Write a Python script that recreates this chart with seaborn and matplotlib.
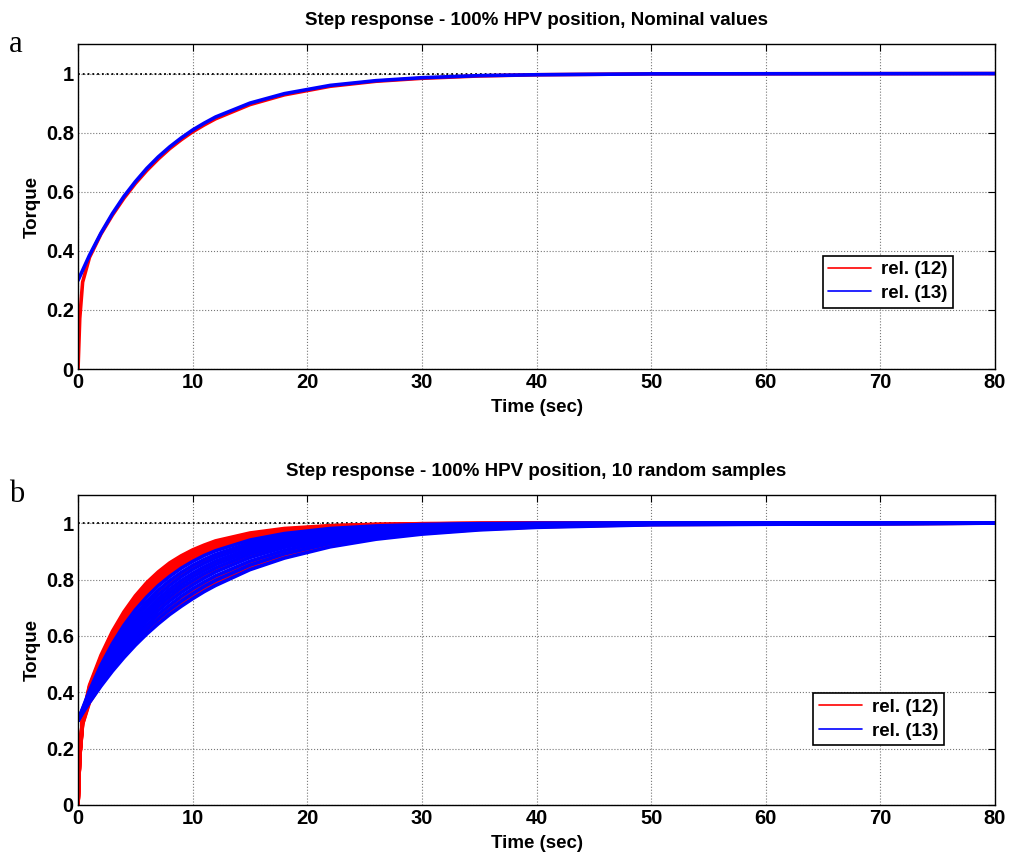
import pandas as pd
import seaborn as sns
import matplotlib.pyplot as plt
from matplotlib.lines import Line2D

# time grids (sec)
t_blue = [0, 1, 2, 3, 4, 5, 6, 7, 8, 9, 10, 11, 12, 15, 18, 22, 26, 30, 35, 40, 50, 80]
t_red = [0, 0.15, 0.4, 1, 2, 3, 4, 5, 6, 7, 8, 9, 10, 11, 12, 15, 18, 22, 26, 30, 35, 40, 50, 80]

# panel a - nominal values
nominal_red = [0, 0.171, 0.294, 0.378, 0.457, 0.521, 0.578, 0.628, 0.672, 0.711, 0.746, 0.776,
               0.803, 0.826, 0.847, 0.895, 0.928, 0.957, 0.974, 0.984, 0.992, 0.996, 0.999, 1.0]
nominal_blue = [0.3, 0.385, 0.460, 0.526, 0.584, 0.634, 0.679, 0.718, 0.752, 0.782, 0.809,
                0.832, 0.853, 0.900, 0.932, 0.960, 0.976, 0.986, 0.993, 0.996, 0.999, 1.0]

# panel b - 10 random samples per relation
samples_red = [
    [0, 0.179, 0.313, 0.425, 0.531, 0.616, 0.685, 0.742, 0.789, 0.827, 0.859, 0.884, 0.905, 0.922, 0.937, 0.965, 0.981, 0.991, 0.996, 0.998, 0.999, 1.0, 1.0, 1.0],
    [0, 0.178, 0.311, 0.420, 0.523, 0.607, 0.676, 0.732, 0.779, 0.818, 0.850, 0.876, 0.898, 0.916, 0.930, 0.961, 0.978, 0.990, 0.995, 0.998, 0.999, 1.0, 1.0, 1.0],
    [0, 0.177, 0.309, 0.416, 0.517, 0.598, 0.666, 0.723, 0.770, 0.809, 0.841, 0.868, 0.890, 0.909, 0.924, 0.956, 0.975, 0.988, 0.994, 0.997, 0.999, 1.0, 1.0, 1.0],
    [0, 0.176, 0.307, 0.413, 0.510, 0.590, 0.657, 0.713, 0.760, 0.799, 0.832, 0.860, 0.883, 0.902, 0.918, 0.952, 0.972, 0.986, 0.993, 0.997, 0.999, 1.0, 1.0, 1.0],
    [0, 0.176, 0.305, 0.407, 0.501, 0.579, 0.645, 0.700, 0.747, 0.786, 0.820, 0.848, 0.871, 0.892, 0.908, 0.945, 0.967, 0.983, 0.991, 0.996, 0.998, 0.999, 1.0, 1.0],
    [0, 0.173, 0.300, 0.395, 0.481, 0.553, 0.615, 0.668, 0.714, 0.754, 0.788, 0.817, 0.843, 0.864, 0.883, 0.925, 0.952, 0.974, 0.986, 0.992, 0.996, 0.998, 1.0, 1.0],
    [0, 0.172, 0.295, 0.385, 0.464, 0.531, 0.589, 0.641, 0.685, 0.725, 0.759, 0.789, 0.815, 0.839, 0.859, 0.905, 0.937, 0.963, 0.978, 0.987, 0.993, 0.997, 0.999, 1.0],
    [0, 0.170, 0.292, 0.377, 0.449, 0.511, 0.566, 0.615, 0.659, 0.697, 0.731, 0.762, 0.789, 0.813, 0.834, 0.884, 0.919, 0.950, 0.969, 0.981, 0.989, 0.994, 0.998, 1.0],
    [0, 0.169, 0.288, 0.369, 0.434, 0.491, 0.543, 0.589, 0.630, 0.668, 0.701, 0.731, 0.758, 0.783, 0.805, 0.858, 0.897, 0.933, 0.956, 0.971, 0.983, 0.990, 0.997, 1.0],
    [0, 0.168, 0.286, 0.364, 0.426, 0.480, 0.529, 0.573, 0.614, 0.650, 0.683, 0.713, 0.740, 0.764, 0.787, 0.841, 0.882, 0.921, 0.947, 0.964, 0.978, 0.987, 0.995, 1.0],
]
samples_blue = [
    [0.3, 0.406, 0.496, 0.572, 0.637, 0.692, 0.738, 0.778, 0.811, 0.840, 0.864, 0.885, 0.902, 0.940, 0.963, 0.981, 0.990, 0.995, 0.998, 0.999, 1.0, 1.0],
    [0.3, 0.400, 0.485, 0.559, 0.622, 0.676, 0.722, 0.762, 0.796, 0.825, 0.850, 0.871, 0.889, 0.930, 0.956, 0.976, 0.987, 0.993, 0.997, 0.999, 1.0, 1.0],
    [0.3, 0.395, 0.476, 0.547, 0.608, 0.661, 0.707, 0.746, 0.780, 0.810, 0.836, 0.858, 0.877, 0.920, 0.948, 0.971, 0.984, 0.991, 0.996, 0.998, 0.999, 1.0],
    [0.3, 0.390, 0.468, 0.536, 0.595, 0.647, 0.692, 0.732, 0.766, 0.796, 0.822, 0.845, 0.865, 0.910, 0.941, 0.966, 0.980, 0.989, 0.994, 0.997, 0.999, 1.0],
    [0.3, 0.385, 0.460, 0.526, 0.584, 0.634, 0.679, 0.718, 0.752, 0.782, 0.809, 0.832, 0.853, 0.900, 0.932, 0.960, 0.976, 0.986, 0.993, 0.996, 0.999, 1.0],
    [0.3, 0.381, 0.453, 0.517, 0.573, 0.622, 0.666, 0.705, 0.739, 0.770, 0.796, 0.820, 0.841, 0.890, 0.924, 0.954, 0.972, 0.983, 0.991, 0.995, 0.999, 1.0],
    [0.3, 0.377, 0.445, 0.506, 0.560, 0.609, 0.652, 0.690, 0.724, 0.754, 0.781, 0.805, 0.827, 0.878, 0.914, 0.946, 0.966, 0.979, 0.988, 0.993, 0.998, 1.0],
    [0.3, 0.373, 0.438, 0.497, 0.549, 0.596, 0.638, 0.676, 0.709, 0.740, 0.767, 0.791, 0.813, 0.865, 0.903, 0.938, 0.960, 0.974, 0.985, 0.991, 0.997, 1.0],
    [0.3, 0.369, 0.430, 0.486, 0.537, 0.582, 0.623, 0.660, 0.693, 0.723, 0.750, 0.775, 0.797, 0.851, 0.891, 0.928, 0.952, 0.968, 0.981, 0.989, 0.996, 1.0],
    [0.3, 0.364, 0.422, 0.475, 0.523, 0.567, 0.607, 0.643, 0.676, 0.705, 0.732, 0.757, 0.779, 0.835, 0.876, 0.916, 0.943, 0.961, 0.976, 0.985, 0.994, 1.0],
]

titles = ["Step response - 100% HPV position, Nominal values",
          "Step response - 100% HPV position, 10 random samples"]
panel_letters = ["a", "b"]
legend_labels = ["rel. (12)", "rel. (13)"]
x_ticks = [0, 10, 20, 30, 40, 50, 60, 70, 80]
y_ticks = [0, 0.2, 0.4, 0.6, 0.8, 1]
y_tick_labels = ["0", "0.2", "0.4", "0.6", "0.8", "1"]

sns.set_style("white")
plt.rcParams['font.family'] = ['Liberation Sans', 'DejaVu Sans']
plt.rcParams['font.weight'] = 'bold'
plt.rcParams['text.color'] = 'black'
plt.rcParams['axes.labelcolor'] = 'black'
plt.rcParams['lines.solid_joinstyle'] = 'round'

fig = plt.figure(figsize=(10.12, 8.55), dpi=100)
ax_a = fig.add_axes([0.0771, 0.5684, 0.9061, 0.3801])
ax_b = fig.add_axes([0.0771, 0.0585, 0.9061, 0.3626])

lw = 2.6
sns.lineplot(x=t_red, y=nominal_red, color='red', lw=lw, ax=ax_a, estimator=None, sort=False)
sns.lineplot(x=t_blue, y=nominal_blue, color='blue', lw=lw, ax=ax_a, estimator=None, sort=False)

for vals in samples_red:
    sns.lineplot(x=t_red, y=vals, color='red', lw=lw, ax=ax_b, estimator=None, sort=False)
for vals in samples_blue:
    sns.lineplot(x=t_blue, y=vals, color='blue', lw=lw, ax=ax_b, estimator=None, sort=False)

legend_pos = [(0.883, 0.269), (0.873, 0.277)]
for ax, title, letter, lpos in zip([ax_a, ax_b], titles, panel_letters, legend_pos):
    ax.axhline(1, color='black', ls=':', lw=1.3, zorder=1)
    ax.set_xlim(0, 80)
    ax.set_ylim(0, 1.1)
    ax.set_xticks(x_ticks)
    ax.set_yticks(y_ticks)
    ax.set_yticklabels(y_tick_labels)
    ax.grid(True, ls=':', color='#777777', lw=0.8)
    ax.tick_params(direction='in', length=5, width=0.8, top=True, right=True,
                   labelsize=14.5, pad=3, colors='black')
    for lab in ax.get_xticklabels() + ax.get_yticklabels():
        lab.set_fontweight('bold')
    for sp in ax.spines.values():
        sp.set_color('black')
        sp.set_linewidth(1.0)
    ax.set_title(title, fontsize=13.5, fontweight='bold', pad=14)
    ax.set_xlabel("Time (sec)", fontsize=13.5, fontweight='bold', labelpad=5)
    ax.set_ylabel("Torque", fontsize=13.5, fontweight='bold', labelpad=4)
    ax.text(-0.075, 1.0, letter, transform=ax.transAxes, fontsize=22,
            family='Liberation Serif', fontweight='normal', va='center', ha='left')
    handles = [Line2D([], [], color='red', lw=1.2), Line2D([], [], color='blue', lw=1.2)]
    leg = ax.legend(handles, legend_labels, loc='center', bbox_to_anchor=lpos,
                    fancybox=False, framealpha=1, edgecolor='black', handlelength=2.3,
                    prop={'weight': 'bold', 'size': 13.5}, borderpad=0.3,
                    labelspacing=0.35, handletextpad=0.5)
    leg.get_frame().set_linewidth(1.2)

fig.savefig("out.png", dpi=100)
